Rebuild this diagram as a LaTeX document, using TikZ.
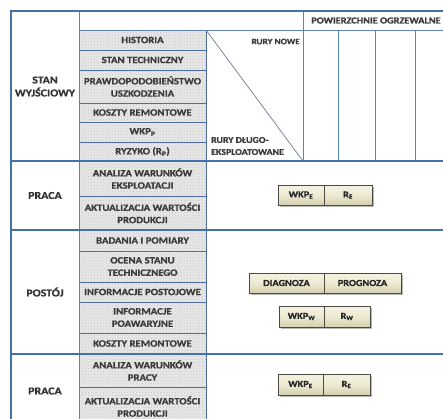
\documentclass[tikz,border=0pt]{standalone}
\usepackage{fontspec}
\newfontfamily\labfont{Carlito}[FakeStretch=1.12, FakeBold=0.9]
\usetikzlibrary{patterns}
\definecolor{tblblue}{HTML}{5A82BC}
\definecolor{secblue}{HTML}{4570AE}
\definecolor{boxblue}{HTML}{4D6E9E}
\definecolor{hatchbg}{HTML}{E8E8E8}
\definecolor{hatchdot}{HTML}{C4C4C4}
\definecolor{txtgray}{HTML}{3A3A3A}
\definecolor{btnedge}{HTML}{4A4A42}
\definecolor{btntop}{HTML}{F4F2E2}
\definecolor{btnmid}{HTML}{EDEAD2}
\definecolor{btnbot}{HTML}{D3CFAE}
\definecolor{diagcol}{HTML}{6F7C96}
\tikzset{
  tline/.style={draw=tblblue, line width=0.9pt},
  secline/.style={draw=secblue, line width=1.8pt},
  frameline/.style={draw=secblue, line width=2pt},
  hbox/.style={draw=boxblue, line width=0.9pt, preaction={fill=hatchbg}, pattern=crosshatch dots, pattern color=hatchdot},
  lab/.style={font=\labfont\bfseries\fontsize{9.6}{12.3}\selectfont, text=txtgray, align=center, inner sep=0pt},
  biglab/.style={lab, font=\labfont\bfseries\fontsize{10.6}{13}\selectfont, text=black!80},
  btn/.style={draw=btnedge, line width=0.9pt, top color=btntop, bottom color=btnbot, middle color=btnmid},
  btnshadow/.style={fill=black!28},
  btntext/.style={font=\labfont\bfseries\fontsize{9.2}{11}\selectfont, text=black!85, inner sep=0pt},
  diagline/.style={draw=diagcol, line width=0.7pt}
}
\begin{document}
\begin{tikzpicture}[x=1pt,y=-1pt]
\useasboundingbox (0,0) rectangle (443,418);
\begin{scope}
\clip (0,0) rectangle (443,418);
\fill[white] (0,0) rectangle (443,418);
% hatched boxes
\draw[hbox] (79,30) rectangle (206,50) node[midway,lab] (b1) {HISTORIA};
\draw[hbox] (79,50) rectangle (206,70) node[midway,lab] (b2) {STAN TECHNICZNY};
\draw[hbox] (79,70) rectangle (206,103) node[midway,lab] (b3) {PRAWDOPODOBIEŃSTWO\\USZKODZENIA};
\draw[hbox] (79,103) rectangle (206,122) node[midway,lab] (b4) {KOSZTY REMONTOWE};
\draw[hbox] (79,122) rectangle (206,142) node[midway,lab] (b5) {WKP\textsubscript{P}};
\draw[hbox] (79,142) rectangle (206,161) node[midway,lab] (b6) {RYZYKO (R\textsubscript{P})};
\draw[hbox] (79,161) rectangle (206,196) node[midway,lab] (b7) {ANALIZA WARUNKÓW\\EKSPLOATACJI};
\draw[hbox] (79,196) rectangle (206,230) node[midway,lab] (b8) {AKTUALIZACJA WARTOŚCI\\PRODUKCJI};
\draw[hbox] (79,230) rectangle (206,251) node[midway,lab] (b9) {BADANIA I POMIARY};
\draw[hbox] (79,251) rectangle (206,282) node[midway,lab] (b10) {OCENA STANU\\TECHNICZNEGO};
\draw[hbox] (79,282) rectangle (206,302) node[midway,lab] (b11) {INFORMACJE POSTOJOWE};
\draw[hbox] (79,302) rectangle (206,333) node[midway,lab] (b12) {INFORMACJE\\POAWARYJNE};
\draw[hbox] (79,333) rectangle (206,354) node[midway,lab] (b13) {KOSZTY REMONTOWE};
\draw[hbox] (79,354) rectangle (206,387) node[midway,lab] (b14) {ANALIZA WARUNKÓW\\PRACY};
\draw[hbox] (79,387) rectangle (206,426) node[midway,lab] (b15) {AKTUALIZACJA WARTOŚCI\\PRODUKCJI};
% table grid
\draw[tline] (79,11) -- (79,430);
\draw[tline] (79,30) -- (450,30);
\draw[tline] (303,11) -- (303,161);
\draw[tline] (338,30) -- (338,161);
\draw[tline] (375,30) -- (375,161);
\draw[tline] (415,30) -- (415,161);
% diagonal
\coordinate (dA) at (206,30);
\coordinate (dB) at (303,161);
\draw[diagline] (dA) -- (dB);
% section separators
\draw[secline] (11,161) -- (450,161);
\draw[secline] (11,230) -- (450,230);
\draw[secline] (11,354) -- (450,354);
% frame
\draw[frameline] (11,430) -- (11,11) -- (450,11);
% left labels
\node[biglab] (s1) at (45,86.5) {STAN\\WYJŚCIOWY};
\node[biglab] (s2) at (45,195.5) {PRACA};
\node[biglab] (s3) at (45,292) {POSTÓJ};
\node[biglab] (s4) at (45,391) {PRACA};
% headers
\node[lab, text=black!78, font=\labfont\bfseries\fontsize{9.2}{12}\selectfont] (hdr) at (376,20.5) {POWIERZCHNIE OGRZEWALNE};
\node[lab, anchor=east, font=\labfont\bfseries\fontsize{8.3}{10}\selectfont] (rn) at (300,41.5) {RURY NOWE};
\node[lab, anchor=west, align=left, font=\labfont\bfseries\fontsize{8.8}{12}\selectfont] (rd) at (211,146) {RURY DŁUGO-\\EKSPLOATOWANE};
% buttons
\fill[btnshadow] (279.5,186.5) rectangle (373.5,206.5);
\draw[btn] (278,185) rectangle (324,205) node[midway,btntext] (wkpE1) {WKP\textsubscript{E}};
\draw[btn] (324,185) rectangle (372,205) node[midway,btntext] (rE1) {R\textsubscript{E}};
\fill[btnshadow] (250.5,274.5) rectangle (402.5,294.5);
\draw[btn] (249,273) rectangle (324,293) node[midway,btntext] (diag) {DIAGNOZA};
\draw[btn] (324,273) rectangle (401,293) node[midway,btntext] (progn) {PROGNOZA};
\fill[btnshadow] (280.5,307.5) rectangle (371.5,328.5);
\draw[btn] (279,306) rectangle (324,327) node[midway,btntext] (wkpW) {WKP\textsubscript{W}};
\draw[btn] (324,306) rectangle (370,327) node[midway,btntext] (rW) {R\textsubscript{W}};
\fill[btnshadow] (279.5,375.5) rectangle (371.5,396.5);
\draw[btn] (278,374) rectangle (323,395) node[midway,btntext] (wkpE2) {WKP\textsubscript{E}};
\draw[btn] (323,374) rectangle (370,395) node[midway,btntext] (rE2) {R\textsubscript{E}};
\end{scope}
\end{tikzpicture}
\end{document}
